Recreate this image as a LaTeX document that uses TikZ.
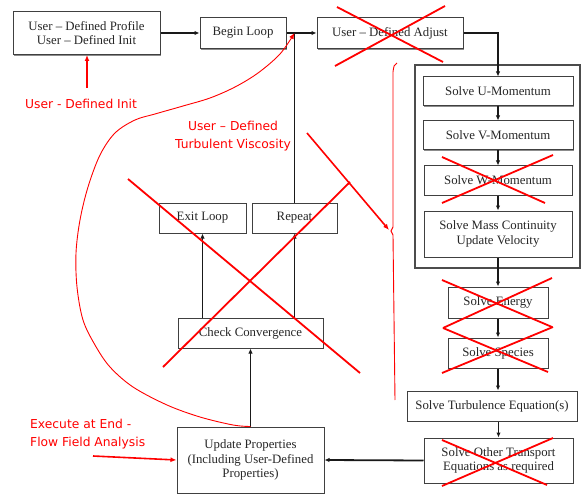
\documentclass[tikz,border=0pt]{standalone}
\usepackage{fontspec}
\setmainfont{Liberation Serif}
\newfontfamily\redfont{DejaVu Sans}
\usetikzlibrary{arrows.meta,shadows}
\begin{document}
\begin{tikzpicture}[x=1pt,y=-1pt,
  box/.style={draw=black!75, line width=1pt, fill=white, inner sep=0pt, align=center,
    font=\fontsize{12.8}{14.5}\selectfont, text=black!85,
    general shadow={shadow xshift=1.3pt, shadow yshift=-1.3pt, fill=black!45}},
  flow/.style={line width=1.8pt, draw=black!90, -{Latex[length=5pt,width=4.5pt]}},
  plainline/.style={line width=1.8pt, draw=black!90},
  cross/.style={draw=red, line width=1.8pt},
  redarrow/.style={draw=red, line width=1.6pt, -{Latex[length=6pt,width=5pt]}},
  redthin/.style={draw=red, line width=0.9pt},
  redlbl/.style={text=red, font=\redfont\fontsize{12.3}{18}\selectfont, inner sep=0pt, align=center},
]
\useasboundingbox (0,0) rectangle (582,495);

% outer group box
\node[draw=black!70, line width=1.1pt, fill=white, inner sep=0pt, minimum width=165pt, minimum height=203pt,
  general shadow={shadow xshift=1.3pt, shadow yshift=-1.3pt, fill=black!45}] (outer) at (497.5,166.5) {};

% boxes
\node[box, minimum width=147pt, minimum height=43pt] (prof) at (86.5,33) {User – Defined Profile\\User – Defined Init};
\node[box, minimum width=86pt, minimum height=31pt] (begin) at (243,33) {Begin Loop};
\node[box, minimum width=146pt, minimum height=31pt] (adjust) at (390,33) {User – Defined Adjust};
\node[box, minimum width=150pt, minimum height=29pt] (U) at (498,91.5) {Solve U-Momentum};
\node[box, minimum width=150pt, minimum height=29pt] (V) at (498,135.5) {Solve V-Momentum};
\node[box, minimum width=148pt, minimum height=29pt] (W) at (498,180.5) {Solve W-Momentum};
\node[box, minimum width=148pt, minimum height=46pt] (mass) at (498,234) {Solve Mass Continuity\\Update Velocity};
\node[box, minimum width=100pt, minimum height=31pt] (energy) at (498,302.5) {Solve Energy};
\node[box, minimum width=100pt, minimum height=30pt] (species) at (498,353) {Solve Species};
\node[box, minimum width=170pt, minimum height=30pt] (turb) at (492,406) {Solve Turbulence Equation(s)};
\node[box, minimum width=149pt, minimum height=45pt] (other) at (498.5,460.5) {Solve Other Transport\\Equations as required};
\node[box, minimum width=147pt, minimum height=66pt] (update) at (250.5,460) {Update Properties\\(Including User-Defined\\Properties)};
\node[box, minimum width=145pt, minimum height=30pt] (check) at (250.5,333) {Check Convergence};
\node[box, minimum width=87pt, minimum height=30pt] (exit) at (202.5,218) {Exit Loop};
\node[box, minimum width=85pt, minimum height=30pt] (repeat) at (294.5,218) {Repeat};

% black connectors
\draw[flow] (prof.east) -- (begin.west);
\draw[flow] (begin.east) -- (adjust.west);
\coordinate (j) at (repeat.north |- begin.east);
\draw[plainline] (repeat.north) -- (j);
\draw[flow] (adjust.east) -| (U.north);
\draw[flow] (U.south) -- (V.north);
\draw[flow] (V.south) -- (W.north);
\draw[flow] (W.south) -- (mass.north);
\draw[flow] (mass.south) -- (energy.north);
\draw[flow] (energy.south) -- (species.north);
\draw[flow] (species.south) -- (species.south |- turb.north);
\draw[flow] (other.north |- turb.south) -- (other.north);
\draw[flow] (other.west) -- (update.east);
\draw[flow] (update.north) -- (check.south);
\draw[flow] (exit.south |- check.north) -- (exit.south);
\draw[flow] (repeat.south |- check.north) -- (repeat.south);

% red annotations
\node[redlbl] (initlbl) at (81,104) {User - Defined Init};
\coordinate (ia) at (87,88);
\draw[redarrow] (ia) -- (prof.south -| ia);
\node[redlbl] (turblbl) at (233,136) {User – Defined\\Turbulent Viscosity};
\node[redlbl, align=left, anchor=west] (execlbl) at (30,434) {Execute at End -\\Flow Field Analysis};
\coordinate (ea) at (93,456);
\draw[redarrow] (ea) -- (update.west);

\draw[redthin, -{Latex[length=6pt,width=5pt]}] plot[smooth, tension=0.55] coordinates {(update.north) (233,425) (200,417) (167,405) (133,387) (110,367) (95,345) (83,320) (77,287) (76,253) (80,220) (88,187) (100,155) (115,133) (135,120) (155,114) (183,106) (210,98) (235,87) (258,73) (280,54) (j)};

% bracket and arrow to it
\draw[redthin] (397,63) .. controls (394,65) .. (393,72) -- (393,227) -- (391,231) -- (393,235) -- (395,400);
\coordinate (ta1) at (307,133);
\coordinate (ta2) at (389,230);
\draw[redarrow] (ta1) -- (ta2);

% crosses
\draw[cross] (337,7) -- (443,62);
\draw[cross] (445,6) -- (335,66);
\draw[cross] (128,179) -- (360,373);
\draw[cross] (163,367) -- (350,182);
\draw[cross] (442,157) -- (545,203);
\draw[cross] (553,155) -- (442,203);
\draw[cross] (442,280) -- (552,327);
\draw[cross] (552,278) -- (443,328);
\draw[cross] (443,328) -- (548,372);
\draw[cross] (553,327) -- (442,373);
\draw[cross] (442,440) -- (547,485);
\draw[cross] (553,438) -- (442,486);
\end{tikzpicture}
\end{document}
